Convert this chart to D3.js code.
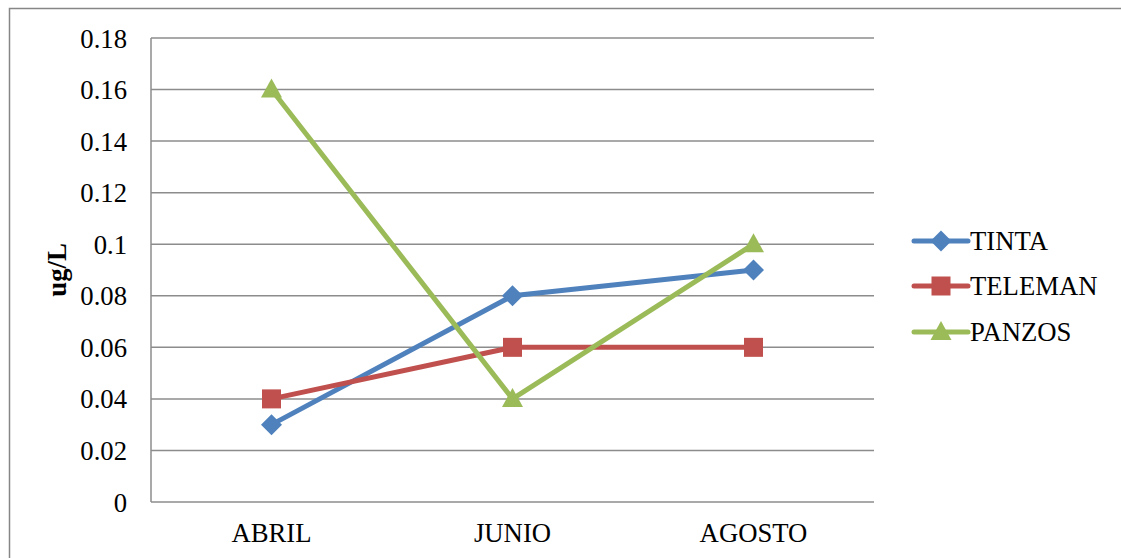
<!DOCTYPE html>
<html>
<head>
<meta charset="utf-8">
<script src="https://d3js.org/d3.v7.min.js"></script>
<style>
  body { margin: 0; background: #fff; }
  text { font-family: "Liberation Serif", "Times New Roman", serif; fill: #000; }
</style>
</head>
<body>
<div class="chart"></div>
<script>
const months = ["ABRIL", "JUNIO", "AGOSTO"];
const tinta = [0.03, 0.08, 0.09];
const teleman = [0.04, 0.06, 0.06];
const panzos = [0.16, 0.04, 0.10];
const yTicks = [0, 0.02, 0.04, 0.06, 0.08, 0.1, 0.12, 0.14, 0.16, 0.18];

const series = [
    { name: "TINTA", values: tinta, color: "#4F81BD", shape: "diamond" },
    { name: "TELEMAN", values: teleman, color: "#C0504D", shape: "square" },
    { name: "PANZOS", values: panzos, color: "#9BBB59", shape: "triangle" }
];

const width = 1121;
const height = 558;
const fontSize = 26.7;
const svg = d3.select('.chart')
    .append('svg')
    .attr('width', width)
    .attr('height', height);

// outer frame (right and bottom edges fall outside the picture)
svg.append("rect")
    .attr("x", 9.5).attr("y", 8.5)
    .attr("width", 1130).attr("height", 560)
    .attr("fill", "none")
    .attr("stroke", "#868686")
    .attr("stroke-width", 1.5);

const plotLeft = 151, plotRight = 874, plotTop = 38, plotBottom = 502;

const x = d3.scaleBand().domain(months).range([plotLeft, plotRight]);
const y = d3.scaleLinear().domain([0, 0.18]).range([plotBottom, plotTop]);

// gridlines
svg.selectAll(".grid")
    .data(yTicks)
    .enter()
    .append("line")
    .attr("class", "grid")
    .attr("x1", plotLeft).attr("x2", plotRight)
    .attr("y1", d => y(d)).attr("y2", d => y(d))
    .attr("stroke", "#8c8c8c")
    .attr("stroke-width", 1.5);

// y axis line
svg.append("line")
    .attr("x1", plotLeft).attr("x2", plotLeft)
    .attr("y1", plotTop).attr("y2", plotBottom)
    .attr("stroke", "#8c8c8c")
    .attr("stroke-width", 1.5);

// y labels
svg.selectAll(".ylab")
    .data(yTicks)
    .enter()
    .append("text")
    .attr("class", "ylab")
    .attr("x", 127)
    .attr("y", d => y(d) + 9.5)
    .attr("text-anchor", "end")
    .attr("font-size", fontSize)
    .text(d => String(+d.toFixed(2)));

// x labels
svg.selectAll(".xlab")
    .data(months)
    .enter()
    .append("text")
    .attr("class", "xlab")
    .attr("x", d => x(d) + x.bandwidth() / 2)
    .attr("y", 542)
    .attr("text-anchor", "middle")
    .attr("font-size", fontSize)
    .text(d => d);

// y title
svg.append("text")
    .attr("transform", "translate(66," + (y(0.09)) + ") rotate(-90)")
    .attr("text-anchor", "middle")
    .attr("font-size", fontSize)
    .attr("font-weight", "bold")
    .text("ug/L");

const line = d3.line()
    .x((d, i) => x(months[i]) + x.bandwidth() / 2)
    .y(d => y(d));

function marker(g, shape, color, cx, cy) {
    if (shape === "diamond") {
        g.append("path")
            .attr("d", `M${cx},${cy - 10.5}L${cx + 10.5},${cy}L${cx},${cy + 10.5}L${cx - 10.5},${cy}Z`)
            .attr("fill", color);
    } else if (shape === "square") {
        g.append("rect")
            .attr("x", cx - 9.5).attr("y", cy - 9.5)
            .attr("width", 19).attr("height", 19)
            .attr("fill", color);
    } else {
        g.append("path")
            .attr("d", `M${cx},${cy - 11}L${cx + 10.5},${cy + 8}L${cx - 10.5},${cy + 8}Z`)
            .attr("fill", color);
    }
}

series.forEach(s => {
    svg.append("path")
        .datum(s.values)
        .attr("d", line)
        .attr("fill", "none")
        .attr("stroke", s.color)
        .attr("stroke-width", 5)
        .attr("stroke-linejoin", "round");
    const g = svg.append("g");
    s.values.forEach((v, i) => {
        marker(g, s.shape, s.color, x(months[i]) + x.bandwidth() / 2, y(v));
    });
});

// legend
const legendY = [241, 286, 332];
series.forEach((s, i) => {
    const g = svg.append("g");
    g.append("line")
        .attr("x1", 914).attr("x2", 968)
        .attr("y1", legendY[i]).attr("y2", legendY[i])
        .attr("stroke", s.color)
        .attr("stroke-width", 5)
        .attr("stroke-linecap", "round");
    marker(g, s.shape, s.color, 941, legendY[i]);
    g.append("text")
        .attr("x", 970)
        .attr("y", legendY[i] + 9)
        .attr("font-size", fontSize)
        .text(s.name);
});
</script>
</body>
</html>
